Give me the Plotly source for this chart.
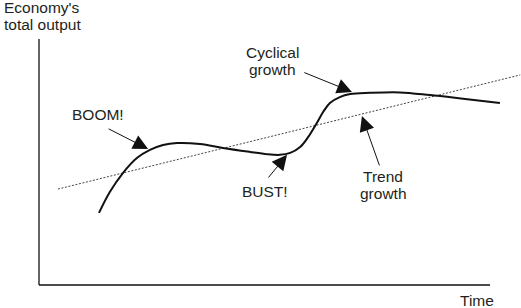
import plotly.graph_objects as go

# Cyclical output curve (time, output)
time_pts = [1.33, 1.57, 1.86, 2.17, 2.46, 2.75, 3.06, 3.57, 4.08, 4.68, 5.01, 5.34, 5.57, 5.79, 5.97, 6.16, 6.30, 6.45, 6.67, 6.90, 7.34, 8.00, 8.67, 9.45, 10.22]
output_pts = [2.93, 3.78, 4.55, 5.16, 5.49, 5.69, 5.77, 5.73, 5.57, 5.41, 5.33, 5.29, 5.37, 5.61, 6.02, 6.59, 7.03, 7.40, 7.64, 7.76, 7.81, 7.83, 7.72, 7.56, 7.40]

# Trend growth line
trend_time = [0.42, 10.67]
trend_output = [3.90, 8.54]

# Axis extents
axis_time = [0, 10]
axis_output = [0, 10]

# Callouts: tail (x, y), tip (x, y)
callout_tail_x = [1.51, 5.06, 5.85, 7.56]
callout_tail_y = [6.38, 4.31, 8.66, 4.80]
callout_tip_x = [2.42, 5.50, 6.94, 7.16]
callout_tip_y = [5.53, 5.29, 7.85, 6.87]

# Labels: text, x, y, anchor
label_text = ["BOOM!", "BUST!", "Cyclical", "growth", "Trend", "growth", "Economy's", "total output", "Time"]
label_x = [1.31, 5.01, 5.17, 5.17, 7.63, 7.63, -0.82, -0.82, 9.29]
label_y = [6.95, 3.82, 9.47, 8.78, 4.43, 3.74, 11.30, 10.57, -0.65]
label_anchor = ["center", "center", "center", "center", "center", "center", "left", "left", "left"]

FONT = dict(family="Liberation Sans, Arial, sans-serif", size=15.5, color="#231f20")

fig = go.Figure()
fig.add_trace(go.Scatter(x=trend_time, y=trend_output, mode="lines",
                         line=dict(color="#444444", width=1, dash="2px,1.6px"), hoverinfo="skip"))
fig.add_trace(go.Scatter(x=time_pts, y=output_pts, mode="lines",
                         line=dict(color="#111111", width=2, shape="spline", smoothing=1.0), hoverinfo="skip"))

# axes lines
fig.add_shape(type="line", x0=axis_time[0], x1=axis_time[0], y0=axis_output[0], y1=axis_output[1],
              line=dict(color="#111111", width=1.3))
fig.add_shape(type="line", x0=axis_time[0], x1=axis_time[1], y0=axis_output[0], y1=axis_output[0],
              line=dict(color="#111111", width=1.3))

for tx, ty, hx, hy in zip(callout_tail_x, callout_tail_y, callout_tip_x, callout_tip_y):
    fig.add_annotation(x=hx, y=hy, ax=tx, ay=ty, axref="x", ayref="y", xref="x", yref="y",
                       text="", showarrow=True, arrowhead=2, arrowsize=3, arrowwidth=1,
                       arrowcolor="#111111", standoff=0, startstandoff=0)

for t, x, y, a in zip(label_text, label_x, label_y, label_anchor):
    fig.add_annotation(x=x, y=y, xref="x", yref="y", text=t, showarrow=False,
                       xanchor=a, yanchor="middle", font=FONT)

fig.update_layout(
    width=521, height=308,
    margin=dict(l=0, r=0, t=0, b=0),
    paper_bgcolor="white", plot_bgcolor="white",
    showlegend=False,
    xaxis=dict(range=[-39 / 45.1, 482 / 45.1], visible=False, fixedrange=True),
    yaxis=dict(range=[-23 / 24.6, 285 / 24.6], visible=False, fixedrange=True),
)

fig.write_html("out.html")
